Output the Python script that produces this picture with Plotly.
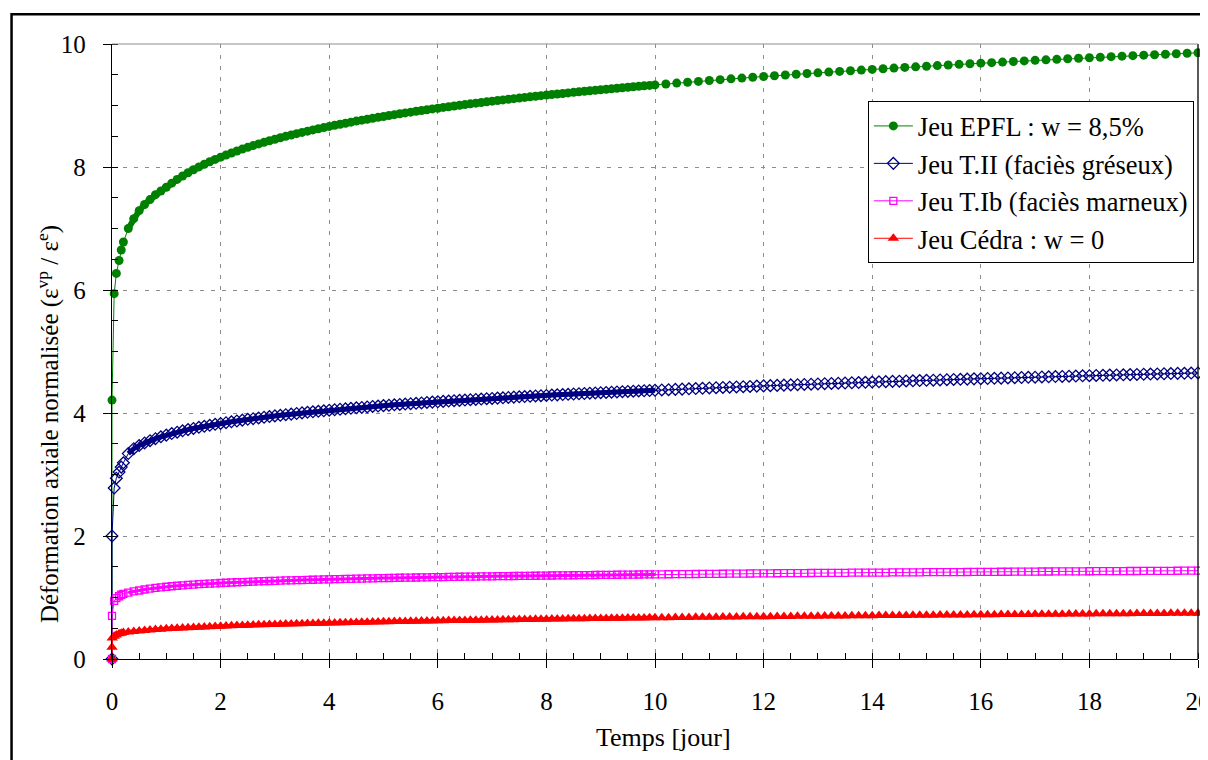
import plotly.graph_objects as go

# ---------------- data ----------------
# time samples (days)
T_EARLY = [0, 0, 0.04, 0.08, 0.13, 0.17, 0.21]
T_EARLY_CEDRA = [0, 0, 0.005, 0.04, 0.08, 0.13, 0.17, 0.21]
T_A = [0.3, 0.4, 0.5, 0.6, 0.7, 0.8, 0.9, 1.0,
       1.1, 1.2, 1.3, 1.4, 1.5, 1.6, 1.7, 1.8, 1.9, 2.0,
       2.1, 2.2, 2.3, 2.4, 2.5, 2.6, 2.7, 2.8, 2.9, 3.0,
       3.1, 3.2, 3.3, 3.4, 3.5, 3.6, 3.7, 3.8, 3.9, 4.0,
       4.1, 4.2, 4.3, 4.4, 4.5, 4.6, 4.7, 4.8, 4.9, 5.0,
       5.1, 5.2, 5.3, 5.4, 5.5, 5.6, 5.7, 5.8, 5.9, 6.0,
       6.1, 6.2, 6.3, 6.4, 6.5, 6.6, 6.7, 6.8, 6.9, 7.0,
       7.1, 7.2, 7.3, 7.4, 7.5, 7.6, 7.7, 7.8, 7.9, 8.0,
       8.1, 8.2, 8.3, 8.4, 8.5, 8.6, 8.7, 8.8, 8.9, 9.0,
       9.1, 9.2, 9.3, 9.4, 9.5, 9.6, 9.7, 9.8, 9.9, 10.0]
T_B = [10.125, 10.25, 10.375, 10.5, 10.625, 10.75, 10.875, 11.0,
       11.125, 11.25, 11.375, 11.5, 11.625, 11.75, 11.875, 12.0,
       12.125, 12.25, 12.375, 12.5, 12.625, 12.75, 12.875, 13.0,
       13.125, 13.25, 13.375, 13.5, 13.625, 13.75, 13.875, 14.0,
       14.125, 14.25, 14.375, 14.5, 14.625, 14.75, 14.875, 15.0,
       15.125, 15.25, 15.375, 15.5, 15.625, 15.75, 15.875, 16.0,
       16.125, 16.25, 16.375, 16.5, 16.625, 16.75, 16.875, 17.0,
       17.125, 17.25, 17.375, 17.5, 17.625, 17.75, 17.875, 18.0,
       18.125, 18.25, 18.375, 18.5, 18.625, 18.75, 18.875, 19.0,
       19.125, 19.25, 19.375, 19.5, 19.625, 19.75, 19.875, 20.0]
T_G_B = [10.2, 10.4, 10.6, 10.8, 11.0, 11.2, 11.4, 11.6, 11.8, 12.0,
         12.2, 12.4, 12.6, 12.8, 13.0, 13.2, 13.4, 13.6, 13.8, 14.0,
         14.2, 14.4, 14.6, 14.8, 15.0, 15.2, 15.4, 15.6, 15.8, 16.0,
         16.2, 16.4, 16.6, 16.8, 17.0, 17.2, 17.4, 17.6, 17.8, 18.0,
         18.2, 18.4, 18.6, 18.8, 19.0, 19.2, 19.4, 19.6, 19.8, 20.0]

# Jeu EPFL : w = 8,5 %
EPFL_Y0 = [0, 4.21, 5.94, 6.27, 6.48, 6.65, 6.78]
EPFL_YA = [7.00, 7.16, 7.29, 7.39, 7.47, 7.55, 7.61, 7.67,
           7.737, 7.798, 7.854, 7.907, 7.956, 8.001, 8.044, 8.085, 8.123, 8.160,
           8.195, 8.228, 8.260, 8.291, 8.320, 8.348, 8.375, 8.401, 8.427, 8.451,
           8.475, 8.498, 8.520, 8.542, 8.563, 8.583, 8.603, 8.622, 8.641, 8.660,
           8.678, 8.695, 8.712, 8.729, 8.746, 8.762, 8.777, 8.793, 8.808, 8.822,
           8.837, 8.851, 8.865, 8.879, 8.892, 8.906, 8.919, 8.931, 8.944, 8.956,
           8.969, 8.980, 8.992, 9.004, 9.015, 9.027, 9.038, 9.049, 9.059, 9.070,
           9.081, 9.091, 9.101, 9.111, 9.121, 9.131, 9.141, 9.150, 9.160, 9.169,
           9.178, 9.187, 9.196, 9.205, 9.214, 9.223, 9.231, 9.240, 9.248, 9.256,
           9.265, 9.273, 9.281, 9.289, 9.297, 9.304, 9.312, 9.320, 9.327, 9.335]
EPFL_YB = [9.350, 9.364, 9.378, 9.392, 9.406, 9.420, 9.433, 9.446, 9.459, 9.471,
           9.484, 9.496, 9.508, 9.520, 9.531, 9.543, 9.554, 9.565, 9.576, 9.587,
           9.598, 9.608, 9.619, 9.629, 9.639, 9.649, 9.659, 9.669, 9.678, 9.688,
           9.697, 9.706, 9.715, 9.725, 9.734, 9.742, 9.751, 9.760, 9.768, 9.777,
           9.785, 9.794, 9.802, 9.810, 9.818, 9.826, 9.834, 9.841, 9.849, 9.857]

# Jeu T.II (faciès gréseux)
TII_Y0 = [0, 2.0, 2.78, 2.94, 3.04, 3.12, 3.19]
TII_YA = [3.340, 3.420, 3.471, 3.513, 3.550, 3.583, 3.613, 3.640,
          3.665, 3.688, 3.710, 3.730, 3.749, 3.767, 3.784, 3.800, 3.816, 3.830,
          3.843, 3.857, 3.870, 3.884, 3.897, 3.908, 3.919, 3.931, 3.942, 3.953,
          3.963, 3.973, 3.982, 3.992, 4.002, 4.011, 4.019, 4.028, 4.036, 4.045,
          4.053, 4.061, 4.068, 4.076, 4.084, 4.091, 4.098, 4.106, 4.113, 4.120,
          4.126, 4.133, 4.139, 4.146, 4.152, 4.158, 4.164, 4.171, 4.177, 4.183,
          4.189, 4.194, 4.200, 4.205, 4.211, 4.216, 4.221, 4.227, 4.232, 4.237,
          4.242, 4.247, 4.253, 4.258, 4.263, 4.268, 4.272, 4.277, 4.281, 4.286,
          4.291, 4.295, 4.300, 4.304, 4.309, 4.313, 4.317, 4.322, 4.326, 4.330,
          4.334, 4.338, 4.342, 4.346, 4.350, 4.354, 4.358, 4.362, 4.366, 4.370]
TII_YB = [4.375, 4.379, 4.384, 4.388, 4.393, 4.398, 4.402, 4.407,
          4.411, 4.415, 4.420, 4.424, 4.428, 4.432, 4.437, 4.441,
          4.445, 4.449, 4.453, 4.457, 4.461, 4.465, 4.469, 4.473,
          4.477, 4.480, 4.484, 4.488, 4.492, 4.495, 4.499, 4.503,
          4.507, 4.510, 4.514, 4.517, 4.521, 4.524, 4.528, 4.531,
          4.534, 4.538, 4.541, 4.545, 4.548, 4.551, 4.555, 4.558,
          4.561, 4.564, 4.567, 4.570, 4.574, 4.577, 4.580, 4.583,
          4.586, 4.589, 4.592, 4.595, 4.598, 4.601, 4.604, 4.607,
          4.610, 4.613, 4.616, 4.619, 4.621, 4.624, 4.627, 4.630,
          4.633, 4.635, 4.638, 4.641, 4.644, 4.646, 4.649, 4.652]

# Jeu T.Ib (faciès marneux)
TIB_Y0 = [0, 0.70, 0.945, 0.99, 1.02, 1.045, 1.06]
TIB_YA = [1.080, 1.100, 1.114, 1.130, 1.144, 1.156, 1.166, 1.175,
          1.183, 1.191, 1.198, 1.204, 1.210, 1.216, 1.221, 1.226, 1.231, 1.236,
          1.240, 1.244, 1.248, 1.251, 1.255, 1.258, 1.262, 1.265, 1.268, 1.271,
          1.274, 1.277, 1.279, 1.282, 1.284, 1.287, 1.289, 1.292, 1.294, 1.296,
          1.298, 1.300, 1.302, 1.304, 1.306, 1.308, 1.310, 1.312, 1.314, 1.316,
          1.317, 1.319, 1.321, 1.322, 1.324, 1.325, 1.327, 1.328, 1.330, 1.331,
          1.332, 1.334, 1.335, 1.337, 1.338, 1.340, 1.341, 1.342, 1.344, 1.345,
          1.346, 1.347, 1.348, 1.350, 1.351, 1.352, 1.353, 1.354, 1.356, 1.357,
          1.358, 1.359, 1.360, 1.361, 1.362, 1.363, 1.364, 1.365, 1.366, 1.367,
          1.368, 1.369, 1.370, 1.371, 1.372, 1.373, 1.374, 1.375, 1.375, 1.376]
TIB_YB = [1.377, 1.378, 1.379, 1.380, 1.381, 1.382, 1.383, 1.384,
          1.385, 1.386, 1.387, 1.388, 1.389, 1.390, 1.391, 1.392,
          1.393, 1.394, 1.395, 1.395, 1.396, 1.397, 1.398, 1.399,
          1.400, 1.401, 1.401, 1.402, 1.403, 1.403, 1.404, 1.405,
          1.406, 1.406, 1.407, 1.408, 1.408, 1.409, 1.410, 1.411,
          1.412, 1.412, 1.413, 1.414, 1.414, 1.415, 1.416, 1.417,
          1.418, 1.418, 1.419, 1.419, 1.420, 1.421, 1.421, 1.422,
          1.423, 1.423, 1.424, 1.424, 1.425, 1.426, 1.426, 1.427,
          1.428, 1.428, 1.429, 1.429, 1.430, 1.431, 1.431, 1.432,
          1.433, 1.433, 1.434, 1.434, 1.435, 1.436, 1.436, 1.437]

# Jeu Cédra : w = 0
CED_Y0 = [0, 0.19, 0.34, 0.37, 0.39, 0.41, 0.42, 0.43]
CED_YA = [0.438, 0.448, 0.457, 0.464, 0.472, 0.478, 0.484, 0.490,
          0.495, 0.500, 0.505, 0.510, 0.514, 0.518, 0.522, 0.526, 0.529, 0.533,
          0.536, 0.539, 0.543, 0.546, 0.549, 0.552, 0.555, 0.557, 0.560, 0.563,
          0.565, 0.568, 0.570, 0.573, 0.575, 0.577, 0.579, 0.581, 0.583, 0.585,
          0.587, 0.589, 0.591, 0.593, 0.595, 0.597, 0.599, 0.600, 0.602, 0.604,
          0.606, 0.608, 0.609, 0.611, 0.613, 0.615, 0.616, 0.618, 0.619, 0.621,
          0.622, 0.624, 0.625, 0.627, 0.628, 0.629, 0.631, 0.632, 0.634, 0.635,
          0.636, 0.637, 0.639, 0.640, 0.641, 0.642, 0.644, 0.645, 0.647, 0.648,
          0.649, 0.650, 0.652, 0.653, 0.654, 0.655, 0.656, 0.657, 0.658, 0.659,
          0.660, 0.661, 0.663, 0.664, 0.665, 0.666, 0.667, 0.668, 0.669, 0.670]
CED_YB = [0.671, 0.672, 0.673, 0.675, 0.676, 0.677, 0.678, 0.679,
          0.680, 0.681, 0.682, 0.683, 0.685, 0.686, 0.687, 0.688,
          0.689, 0.690, 0.691, 0.692, 0.694, 0.695, 0.696, 0.697,
          0.698, 0.699, 0.700, 0.701, 0.702, 0.703, 0.704, 0.705,
          0.706, 0.707, 0.708, 0.708, 0.709, 0.710, 0.711, 0.712,
          0.713, 0.714, 0.715, 0.715, 0.716, 0.717, 0.718, 0.719,
          0.720, 0.721, 0.722, 0.722, 0.723, 0.724, 0.725, 0.726,
          0.727, 0.728, 0.729, 0.729, 0.730, 0.731, 0.732, 0.733,
          0.734, 0.735, 0.735, 0.736, 0.737, 0.737, 0.738, 0.739,
          0.740, 0.741, 0.741, 0.742, 0.743, 0.743, 0.744, 0.745]

NAMES = ["Jeu EPFL : w = 8,5%", "Jeu T.II (faciès gréseux)",
         "Jeu T.Ib (faciès marneux)", "Jeu Cédra : w = 0"]
X_TICKS = [0, 2, 4, 6, 8, 10, 12, 14, 16, 18, 20]
Y_TICKS = [0, 2, 4, 6, 8, 10]
X_TITLE = "Temps [jour]"
Y_TITLE = "Déformation axiale normalisée (ε<sup>vp</sup> / ε<sup>e</sup>)"

# ---------------- assemble series ----------------
# (name, x, y, colour, symbol, size, outline width, dense-band width)
series = [
    (NAMES[0], T_EARLY + T_A + T_G_B, EPFL_Y0 + EPFL_YA + EPFL_YB,
     "#008000", "circle", 9, 0, 6),
    (NAMES[1], T_EARLY + T_A + T_B, TII_Y0 + TII_YA + TII_YB,
     "#000080", "diamond-open", 9, 1.3, 5),
    (NAMES[2], T_EARLY + T_A + T_B, TIB_Y0 + TIB_YA + TIB_YB,
     "#FF00FF", "square-open", 7, 1.3, 3),
    (NAMES[3], T_EARLY_CEDRA + T_A + T_B, CED_Y0 + CED_YA + CED_YB,
     "#FF0000", "triangle-up", 10, 0, 4),
]
band_y = [EPFL_YA, TII_YA, TIB_YA, CED_YA]

FONT = "Liberation Serif, Times New Roman, serif"

fig = go.Figure()
for i, (name, xs, ys, col, sym, size, lw, bw) in enumerate(series):
    assert len(xs) == len(ys), (name, len(xs), len(ys))
    if bw:
        # the 0-10 day part is sampled so densely in the original that the
        # markers merge into a band
        fig.add_trace(go.Scatter(
            x=T_A, y=band_y[i], mode="lines", showlegend=False,
            hoverinfo="skip", line=dict(color=col, width=bw),
            legendgroup=str(i), cliponaxis=False))
    fig.add_trace(go.Scatter(
        x=xs, y=ys, name=name, mode="lines+markers",
        line=dict(color=col, width=1),
        marker=dict(symbol=sym, size=size, color=col,
                    line=dict(color=col, width=lw)),
        cliponaxis=False, legendgroup=str(i),
    ))

# the page body adds an 8 px offset, so the margins are reduced by 8 px on
# the left and top (the right/bottom 8 px fall outside the window)
fig.update_layout(
    width=1208, height=760, autosize=False,
    margin=dict(l=104, r=18, t=36, b=109, autoexpand=False),
    paper_bgcolor="white", plot_bgcolor="white",
    font=dict(family=FONT, size=24, color="black"),
    showlegend=True,
    legend=dict(x=0.696, y=0.907, xanchor="left", yanchor="top",
                bgcolor="white", bordercolor="black", borderwidth=1,
                font=dict(family=FONT, size=26.5, color="black"),
                traceorder="grouped", tracegroupgap=0, itemwidth=39),
)

fig.update_xaxes(
    range=[0, 20], tickvals=X_TICKS, ticktext=[str(v) for v in X_TICKS],
    showline=True, linecolor="black", linewidth=1.3,
    ticks="outside", ticklen=8, tickcolor="black", tickwidth=1.3,
    ticklabelstandoff=12, ticklabeloverflow="allow", automargin=False,
    tickfont=dict(family=FONT, size=25),
    showgrid=True, gridcolor="#8c8c8c", gridwidth=1, griddash="4px,7px",
    zeroline=False,
    minor=dict(dtick=0.5, ticks="inside", ticklen=6, tickcolor="black",
               tickwidth=1, showgrid=False),
)
fig.update_yaxes(
    range=[0, 10], tickvals=Y_TICKS, ticktext=[str(v) for v in Y_TICKS],
    showline=True, linecolor="black", linewidth=1.3,
    ticks="outside", ticklen=8, tickcolor="black", tickwidth=1.3,
    ticklabelstandoff=12, ticklabeloverflow="allow", automargin=False,
    tickfont=dict(family=FONT, size=25),
    showgrid=True, gridcolor="#8c8c8c", gridwidth=1, griddash="4px,7px",
    zeroline=False,
    minor=dict(dtick=0.5, ticks="inside", ticklen=6, tickcolor="black",
               tickwidth=1, showgrid=False),
)

# axis titles placed where the original shows them
fig.add_annotation(text=X_TITLE, xref="paper", yref="paper",
                   x=0.508, y=-0.128, xanchor="center", yanchor="middle",
                   showarrow=False, font=dict(family=FONT, size=26))
fig.add_annotation(text=Y_TITLE, xref="paper", yref="paper",
                   x=-0.0589, y=0.382, xanchor="center", yanchor="middle",
                   textangle=-90, showarrow=False,
                   font=dict(family=FONT, size=25))

# plot-area right / top edges and the outer frame
fig.add_shape(type="line", xref="paper", yref="paper", x0=1, x1=1, y0=0, y1=1,
              line=dict(color="black", width=1.3))
fig.add_shape(type="line", xref="paper", yref="paper", x0=0, x1=1, y0=1, y1=1,
              line=dict(color="#8c8c8c", width=1))
fig.add_shape(type="rect", xref="paper", yref="paper",
              x0=-0.0925, x1=1.02, y0=-0.18, y1=1.0485,
              line=dict(color="black", width=2.5), layer="below")

fig.write_html("out.html")
